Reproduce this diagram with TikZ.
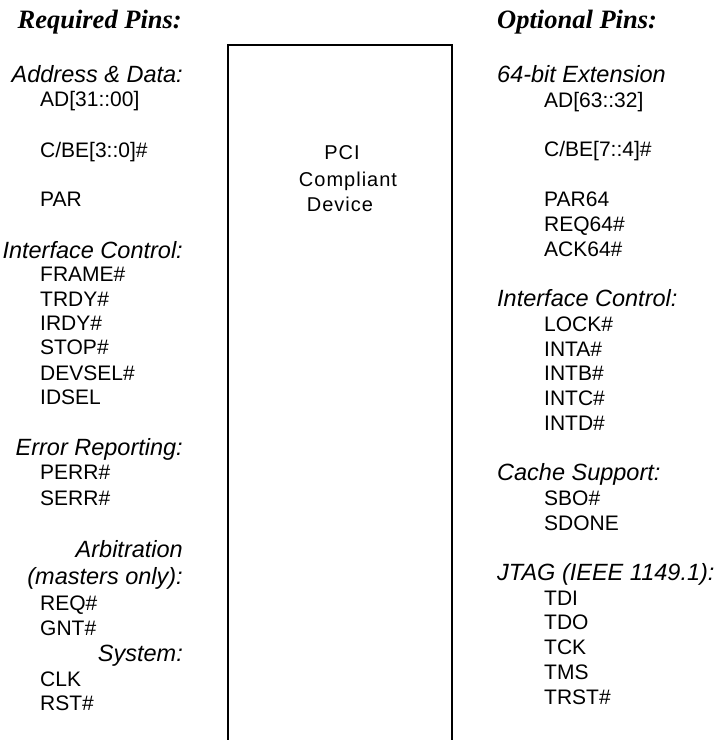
\documentclass[tikz,border=0pt]{standalone}
\usepackage{fontspec}
\setmainfont{Liberation Sans}
\newfontfamily\titlefont{Liberation Serif}
\newfontfamily\pcifont[LetterSpace=5]{Liberation Sans}
\tikzset{
  pin/.style={font=\fontsize{21}{21}\selectfont, inner sep=0pt, anchor=base west},
  headl/.style={font=\fontsize{23.5}{23.5}\selectfont\itshape, inner sep=0pt, anchor=base east},
  headr/.style={font=\fontsize{23.5}{23.5}\selectfont\itshape, inner sep=0pt, anchor=base west},
  ttl/.style={font=\titlefont\fontsize{26.5}{26.5}\selectfont\bfseries\itshape, inner sep=0pt},
  pcitext/.style={font=\pcifont\fontsize{20}{20}\selectfont, inner sep=0pt, anchor=base},
  devbox/.style={line width=1.6pt, line join=miter}
}
\begin{document}
\begin{tikzpicture}[x=1pt,y=-1pt]
\useasboundingbox (0,0) rectangle (725,740);
% device box (open at the bottom)
\draw[devbox] (228,745) -- (228,45) -- (452,45) -- (452,745);
\node[pcitext] (pci1) at (342,159) {PCI};
\node[pcitext] (pci2) at (348,186) {Compliant};
\node[pcitext] (pci3) at (340,211) {Device};
% titles
\node[ttl, anchor=base east] (req) at (182,28) {Required Pins:};
\node[ttl, anchor=base west] (opt) at (497,28) {Optional Pins:};
% left column
\node[headl] (lh1) at (183,82.7) {Address \& Data:};
\node[pin] (l1) at (40,106.7) {AD[31::00]};
\node[pin] (l2) at (40,157.6) {C/BE[3::0]\#};
\node[pin] (l3) at (40,206.6) {PAR};
\node[headl] (lh2) at (183,258) {Interface Control:};
\node[pin] (l4) at (40,281.6) {FRAME\#};
\node[pin] (l5) at (40,306.6) {TRDY\#};
\node[pin] (l6) at (40,330.6) {IRDY\#};
\node[pin] (l7) at (40,354.6) {STOP\#};
\node[pin] (l8) at (40,380.6) {DEVSEL\#};
\node[pin] (l9) at (40,404.6) {IDSEL};
\node[headl] (lh3) at (183,455) {Error Reporting:};
\node[pin] (l10) at (40,479.6) {PERR\#};
\node[pin] (l11) at (40,505.6) {SERR\#};
\node[headl] (lh4) at (183,557.3) {Arbitration};
\node[headl] (lh5) at (183,584) {(masters only):};
\node[pin] (l12) at (40,610.5) {REQ\#};
\node[pin] (l13) at (40,635.5) {GNT\#};
\node[headl] (lh6) at (183,661.7) {System:};
\node[pin] (l14) at (40,686.6) {CLK};
\node[pin] (l15) at (40,710.5) {RST\#};
% right column
\node[headr] (rh1) at (497,82.5) {64-bit Extension};
\node[pin] (r1) at (544,107) {AD[63::32]};
\node[pin] (r2) at (544,156.8) {C/BE[7::4]\#};
\node[pin] (r3) at (544,206.6) {PAR64};
\node[pin] (r4) at (544,231.5) {REQ64\#};
\node[pin] (r5) at (544,256.4) {ACK64\#};
\node[headr] (rh2) at (497,306.6) {Interface Control:};
\node[pin] (r6) at (544,331.1) {LOCK\#};
\node[pin] (r7) at (544,356) {INTA\#};
\node[pin] (r8) at (544,380.9) {INTB\#};
\node[pin] (r9) at (544,405.8) {INTC\#};
\node[pin] (r10) at (544,430.7) {INTD\#};
\node[headr] (rh3) at (497,480.9) {Cache Support:};
\node[pin] (r11) at (544,505.4) {SBO\#};
\node[pin] (r12) at (544,530.3) {SDONE};
\node[headr] (rh4) at (497,580.5) {JTAG (IEEE 1149.1):};
\node[pin] (r13) at (544,605) {TDI};
\node[pin] (r14) at (544,629.9) {TDO};
\node[pin] (r15) at (544,654.8) {TCK};
\node[pin] (r16) at (544,679.7) {TMS};
\node[pin] (r17) at (544,704.6) {TRST\#};
\end{tikzpicture}
\end{document}
